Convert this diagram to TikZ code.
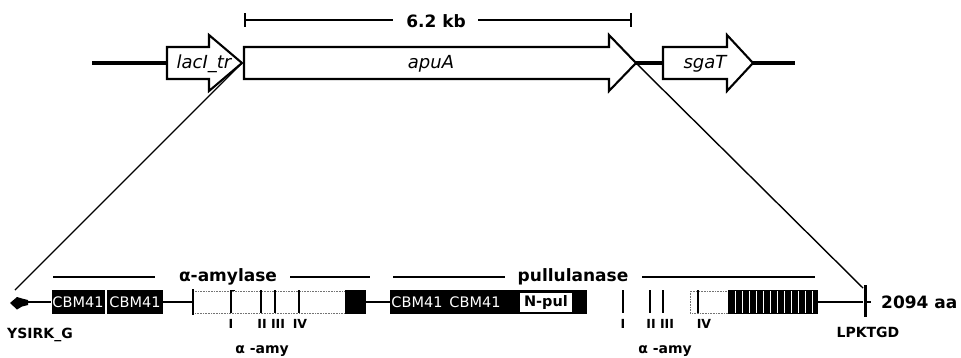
\documentclass[tikz,border=0pt]{standalone}
\usepackage{fontspec}
\setmainfont{DejaVu Sans}
\begin{document}
\begin{tikzpicture}[x=1pt,y=-1pt,
  gene/.style={draw=black, fill=white, line width=2.1pt, line join=miter},
  backbone/.style={line width=3.6pt},
  link/.style={line width=1.8pt},
  guide/.style={line width=1.4pt},
  hdr/.style={line width=1.3pt},
  lbl/.style={inner sep=0pt, anchor=base},
  genetxt/.style={lbl, font=\itshape\fontsize{18}{18}\selectfont},
  bigtxt/.style={lbl, font=\bfseries\fontsize{17}{17}\selectfont},
  cbm/.style={fill=black, text=white, inner sep=0pt, minimum height=24pt,
    font=\fontsize{14.5}{14.5}\selectfont},
  motif/.style={lbl, font=\bfseries\fontsize{14}{14}\selectfont},
  roman/.style={lbl, font=\bfseries\fontsize{12.5}{12.5}\selectfont},
  amy/.style={lbl, font=\bfseries\fontsize{14}{14}\selectfont},
  domframe/.style={draw=black!55, line width=0.6pt, densely dotted}]
\useasboundingbox (0,0) rectangle (961,357);

% ---------- scale bar ----------
\coordinate (sbL) at (245,20);
\coordinate (sbR) at (631,20);
\node[bigtxt] (kb) at (436,27) {6.2 kb};
\draw[hdr] (sbL) -- (393,20);
\draw[hdr] (478,20) -- (sbR);
\draw[hdr] (245,13) -- (245,27);
\draw[hdr] (631,13) -- (631,27);

% ---------- genomic backbone ----------
\draw[backbone] (92,63) -- (167,63);
\draw[backbone] (636,63) -- (663,63);
\draw[backbone] (753,63) -- (795,63);

% ---------- genes ----------
\draw[gene] (167,47) -- (209,47) -- (209,35) -- (242,63) -- (209,91) -- (209,79) -- (167,79) -- cycle;
\draw[gene] (244,47) -- (609,47) -- (609,35) -- (636,63) -- (609,91) -- (609,79) -- (244,79) -- cycle;
\draw[gene] (663,47) -- (727,47) -- (727,35) -- (753,63) -- (727,91) -- (727,79) -- (663,79) -- cycle;
\coordinate (lacTip) at (242,63);
\coordinate (apuTip) at (636,63);
\node[genetxt] (lac) at (204,68) {lacI\_tr};
\node[genetxt] (apu) at (431,68) {apuA};
\node[genetxt] (sga) at (705,68) {sgaT};

% ---------- protein track ----------
\coordinate (trkL) at (15,290);
\coordinate (trkR) at (863,288);
\draw[guide] (lacTip) -- (trkL);
\draw[guide] (apuTip) -- (trkR);

% domain headers
\draw[hdr] (53,277) -- (155,277);
\node[bigtxt] (amyH) at (228,281) {α-amylase};
\draw[hdr] (290,277) -- (370,277);
\draw[hdr] (393,277) -- (505,277);
\node[bigtxt] (pulH) at (573,281) {pullulanase};
\draw[hdr] (642,277) -- (815,277);

% linkers
\draw[link] (27,302) -- (51,302);
\draw[link] (163,302) -- (193,302);
\draw[link] (366,302) -- (390,302);
\draw[link] (818,302) -- (863,302);

% signal peptide
\fill (10,303) -- (17,297) -- (22,298.5) -- (28,300) -- (28,305) -- (22,306.5) -- (17,309.5) -- cycle;

% CBM41 modules (N-terminal)
\node[cbm, minimum width=53pt] (c1) at (78,302) {CBM41};
\node[cbm, minimum width=56pt] (c2) at (135,302) {CBM41};

% alpha-amylase domain
\draw[domframe] (193,291) rectangle (345,313);
\draw[line width=1.6pt] (193,289) -- (193,315);
\fill (345,290) rectangle (366,314);
\draw[line width=2pt] (231,290) -- (231,313);
\draw[line width=1.2pt] (231,290.5) -- (235,290.5);
\draw[line width=2.8pt] (261,290) -- (261,313);
\draw[line width=1.2pt] (275,290) -- (275,313);
\draw[line width=2pt] (299,290) -- (299,313);
\node[roman] at (231,328) {I};
\node[roman] at (262,328) {II};
\node[roman] at (278,328) {III};
\node[roman] at (300,328) {IV};
\node[amy] at (262,353) {α -amy};

% pullulanase: CBM41 modules and N-terminal domain
\node[fill=black, inner sep=0pt, minimum width=197pt, minimum height=24pt] (pul) at (488.5,302) {};
\node[cbm, fill=none] (c3) at (417,302) {CBM41};
\node[cbm, fill=none] (c4) at (475,302) {CBM41};
\node[fill=white, inner sep=0pt, minimum width=52pt, minimum height=19pt,
  font=\bfseries\fontsize{14.5}{14.5}\selectfont] (npul) at (546,302.5) {N-pul};

% pullulanase catalytic region
\draw[line width=1.6pt] (623,290) -- (623,313);
\draw[line width=2.8pt] (650,290) -- (650,313);
\draw[line width=1.2pt] (663,290) -- (663,313);
\draw[domframe] (690,291) rectangle (728,313);
\draw[line width=2pt] (698,290) -- (698,313);
\fill (728,290) rectangle (818,314);
\foreach \x in {735,742,...,812} \draw[white, line width=0.5pt] (\x,291) -- (\x,313);
\node[roman] at (623,328) {I};
\node[roman] at (651,328) {II};
\node[roman] at (667,328) {III};
\node[roman] at (704,328) {IV};
\node[amy] at (665,353) {α -amy};

% C-terminal anchor
\draw[line width=3pt] (865,285) -- (865,317);
\draw[line width=2pt] (865,302) -- (871,302);

% end labels
\node[motif] (ysirk) at (40,338) {YSIRK\_G};
\node[motif] (lpk) at (868,337) {LPKTGD};
\node[bigtxt, anchor=base west] (len) at (881,308) {2094 aa};
\end{tikzpicture}
\end{document}
